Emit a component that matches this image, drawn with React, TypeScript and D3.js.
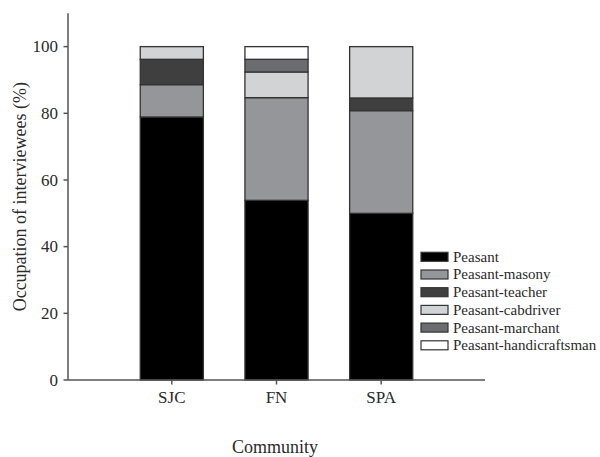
import React from "react";
import * as d3 from "d3";

const communities = ["SJC", "FN", "SPA"];
const occupations = [
  "Peasant",
  "Peasant-masony",
  "Peasant-teacher",
  "Peasant-cabdriver",
  "Peasant-marchant",
  "Peasant-handicraftsman",
];
const peasant = [78.9, 53.9, 50.0];
const masony = [9.7, 30.8, 30.8];
const teacher = [7.6, 0, 3.8];
const cabdriver = [3.8, 7.7, 15.4];
const marchant = [0, 3.8, 0];
const handicraftsman = [0, 3.8, 0];
const yTicks = [0, 20, 40, 60, 80, 100];
const colors = ["#000000", "#959699", "#3f3f3f", "#d2d3d5", "#6b6c6f", "#ffffff"];

const W = 600;
const H = 457;
const FONT = "'Liberation Serif', 'DejaVu Serif', serif";

export default function App() {
  const series = [peasant, masony, teacher, cabdriver, marchant, handicraftsman];
  const rows = communities.map((c, i) => {
    const r: any = { community: c };
    occupations.forEach((o, k) => (r[o] = series[k][i]));
    return r;
  });
  const stacked = d3.stack().keys(occupations)(rows);

  const x = d3
    .scaleBand()
    .domain(communities)
    .range([68, 485])
    .paddingInner(0.397)
    .paddingOuter(0.69);
  const y = d3.scaleLinear().domain([0, 110]).range([380, 13.3]);

  const textColor = "#2a2a2a";
  const axisColor = "#555";

  return (
    <svg width={W} height={H} style={{ position: "absolute", left: 0, top: 0 }}>
      <rect width={W} height={H} fill="#fff" />
      {stacked.map((s, k) => (
        <g key={occupations[k]}>
          {s.map((d, i) =>
            d[1] - d[0] > 0 ? (
              <rect
                key={i}
                x={x(communities[i])!}
                width={x.bandwidth()}
                y={y(d[1])}
                height={y(d[0]) - y(d[1])}
                fill={colors[k]}
                stroke="#333"
                strokeWidth={1.3}
              />
            ) : null
          )}
        </g>
      ))}
      {/* y axis */}
      <line x1={68} x2={68} y1={y(110)} y2={y(0)} stroke={axisColor} strokeWidth={1.5} />
      {yTicks.map((t) => (
        <g key={t}>
          <line x1={63.5} x2={68} y1={y(t)} y2={y(t)} stroke={axisColor} strokeWidth={1.5} />
          <text
            x={58}
            y={y(t)}
            dy="0.34em"
            textAnchor="end"
            fontFamily={FONT}
            fontSize={17}
            fill={textColor}
          >
            {t}
          </text>
        </g>
      ))}
      {/* x axis */}
      <line x1={68} x2={485} y1={y(0)} y2={y(0)} stroke={axisColor} strokeWidth={1.5} />
      {communities.map((c) => {
        const cx = x(c)! + x.bandwidth() / 2;
        return (
          <g key={c}>
            <line x1={cx} x2={cx} y1={380} y2={384.5} stroke={axisColor} strokeWidth={1.5} />
            <text
              x={cx}
              y={403}
              textAnchor="middle"
              fontFamily={FONT}
              fontSize={17}
              fill={textColor}
            >
              {c}
            </text>
          </g>
        );
      })}
      <text
        x={275}
        y={453}
        textAnchor="middle"
        fontFamily={FONT}
        fontSize={18}
        fill={textColor}
      >
        Community
      </text>
      <text
        transform={`translate(26, ${(y(0) + y(110)) / 2 + 0}) rotate(-90)`}
        textAnchor="middle"
        fontFamily={FONT}
        fontSize={18}
        fill={textColor}
      >
        Occupation of interviewees (%)
      </text>
      {/* legend */}
      {occupations.map((o, k) => {
        const cy = 256.8 + k * 17.7;
        return (
          <g key={o}>
            <rect
              x={421}
              y={cy - 4.5}
              width={27}
              height={9}
              fill={colors[k]}
              stroke="#333"
              strokeWidth={1.2}
            />
            <text
              x={453}
              y={cy}
              dy="0.33em"
              fontFamily={FONT}
              fontSize={15}
              fill={textColor}
            >
              {o}
            </text>
          </g>
        );
      })}
    </svg>
  );
}
